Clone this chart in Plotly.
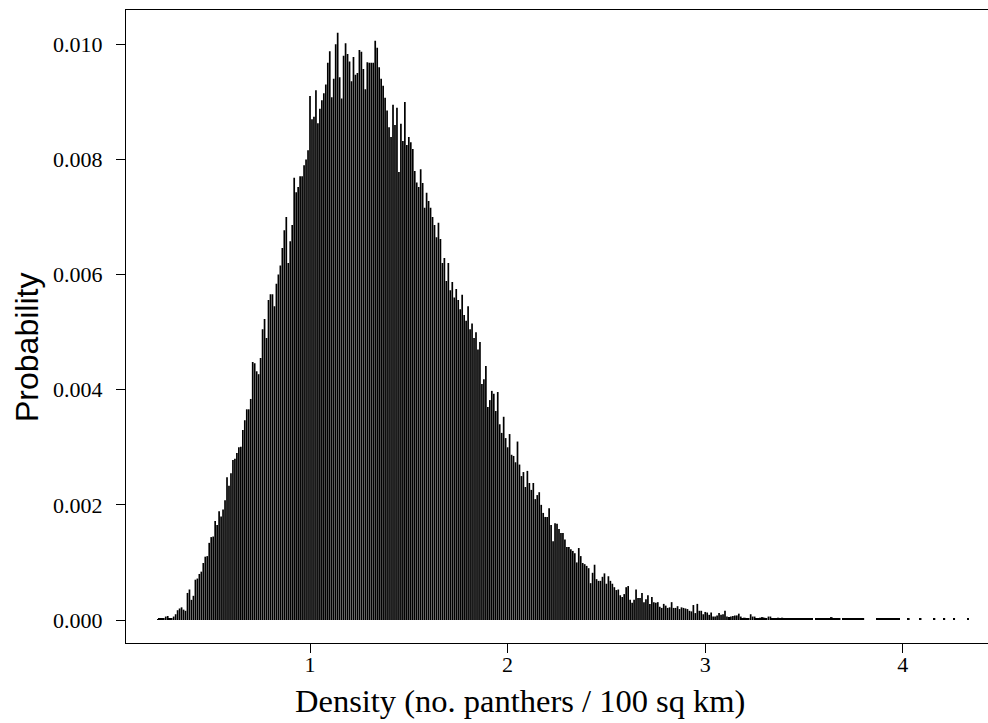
import plotly.graph_objects as go

# ---- data ----
# histogram bins: start of first bin and bin width (density units)
bin_first = 0.23
bin_width = 0.01
# probability of each bin, in units of 1e-5
prob_e5 = [
    1, 2, 2, 3, 6, 7, 3, 3, 6, 10,
    17, 20, 22, 18, 16, 47, 53, 35, 42, 70,
    72, 80, 84, 99, 110, 111, 134, 144, 145, 172,
    165, 189, 180, 192, 208, 248, 233, 255, 278, 280,
    290, 300, 301, 330, 347, 366, 366, 384, 448, 446,
    432, 427, 455, 505, 523, 490, 556, 566, 566, 545,
    584, 600, 616, 646, 677, 700, 620, 658, 686, 768,
    743, 752, 771, 771, 790, 800, 816, 910, 870, 874,
    920, 863, 888, 903, 915, 930, 968, 988, 908, 940,
    1000, 1020, 943, 906, 980, 1002, 983, 970, 936, 978,
    947, 950, 990, 987, 957, 922, 969, 968, 968, 968,
    1006, 994, 960, 940, 928, 907, 885, 856, 839, 895,
    860, 890, 778, 862, 832, 900, 825, 839, 830, 818,
    780, 760, 752, 783, 759, 716, 742, 728, 716, 700,
    686, 665, 690, 662, 620, 629, 589, 620, 573, 587,
    560, 575, 556, 540, 565, 530, 520, 545, 505, 515,
    490, 500, 470, 483, 410, 418, 441, 370, 382, 398,
    393, 363, 396, 340, 325, 353, 316, 300, 323, 287,
    285, 274, 310, 270, 250, 257, 231, 259, 238, 226,
    238, 210, 217, 222, 200, 186, 179, 179, 194, 165,
    137, 168, 167, 158, 151, 151, 140, 127, 127, 123,
    120, 116, 100, 125, 111, 99, 97, 94, 90, 64,
    82, 96, 71, 68, 68, 75, 81, 63, 76, 68,
    63, 57, 52, 53, 43, 40, 45, 57, 59, 35,
    30, 35, 53, 38, 38, 47, 31, 36, 43, 28,
    40, 31, 30, 31, 23, 21, 28, 25, 21, 22,
    31, 21, 21, 24, 19, 22, 21, 20, 19, 16,
    15, 26, 12, 28, 16, 16, 10, 14, 13, 9,
    13, 6, 6, 8, 12, 9, 10, 16, 6, 5,
    6, 7, 8, 8, 11, 6, 3, 4, 3, 2,
    10, 6, 6, 3, 3, 4, 5, 4, 3, 6,
    6, 2, 3, 3, 4, 3, 4, 3, 3, 3,
    3, 3, 3, 3, 3, 3, 2, 2, 2, 2,
    2, 2, 0, 2, 2, 2, 2, 2, 2, 2,
    2, 5, 2, 2, 2, 2, 0, 2, 2, 2,
    2, 2, 2, 2, 2, 2, 2, 2, 0, 0,
    0, 0, 0, 0, 2, 2, 2, 2, 2, 2,
    2, 2, 2, 2, 2, 2, 0, 0, 0, 0,
    2, 0, 0, 0, 0, 0, 2, 0, 0, 0,
    0, 0, 0, 2, 0, 0, 0, 0, 2, 0,
    0, 0, 0, 2, 0, 0, 0, 0, 0, 0,
    2,
]
x_tick_vals = [1, 2, 3, 4]
x_tick_text = ["1", "2", "3", "4"]
y_tick_vals = [0.000, 0.002, 0.004, 0.006, 0.008, 0.010]
y_tick_text = ["0.000", "0.002", "0.004", "0.006", "0.008", "0.010"]
x_label = "Density (no. panthers / 100 sq km)"
y_label = "Probability"

# ---- derived ----
density = [round(bin_first + bin_width * i, 4) for i in range(len(prob_e5))]
probability = [v / 1e5 for v in prob_e5]
# thin (anti-aliased) lines for ordinary bars; tiny tail bars kept pixel-visible
bar_colors = ["rgba(0,0,0,0.999)" if v >= 6 else "black" for v in prob_e5]

W, H = 988, 723
ML, MR, MT, MB = 126, 0, 10, 80

fig = go.Figure()
fig.add_trace(go.Bar(
    x=density, y=probability,
    width=bin_width * 0.86,
    marker=dict(color=bar_colors, line=dict(width=0)),
    showlegend=False, hoverinfo="x+y",
))

serif = "Liberation Serif, Times New Roman, serif"
sans = "Liberation Sans, Arial, sans-serif"

fig.update_layout(
    width=W, height=H,
    margin=dict(l=ML, r=MR, t=MT, b=MB, pad=0),
    paper_bgcolor="white", plot_bgcolor="white",
    bargap=0.1,
    xaxis=dict(
        range=[0.0688, 4.431], showgrid=False, zeroline=False,
        showline=True, linecolor="black", linewidth=1, mirror=True,
        ticks="outside", ticklen=9, tickwidth=1, tickcolor="black",
        tickvals=x_tick_vals, ticktext=x_tick_text,
        tickfont=dict(family=serif, size=22, color="black"),
        ticklabelstandoff=-7,
    ),
    yaxis=dict(
        range=[-0.0003995, 0.010596], showgrid=False, zeroline=False,
        showline=True, linecolor="black", linewidth=1, mirror=False,
        ticks="outside", ticklen=9, tickwidth=1, tickcolor="black",
        tickvals=y_tick_vals, ticktext=y_tick_text,
        tickfont=dict(family=serif, size=22, color="black"),
        ticklabelstandoff=9,
    ),
    annotations=[
        dict(text=x_label, xref="paper", yref="paper",
             x=(519.5 - ML) / (W - ML - MR), y=0,
             xanchor="center", yanchor="top", yshift=-38,
             showarrow=False, font=dict(family=serif, size=32.5, color="black")),
        dict(text=y_label, xref="paper", yref="paper",
             x=0, y=(H - MB - 348) / (H - MT - MB),
             xanchor="center", yanchor="middle", xshift=27 - ML,
             textangle=-90,
             showarrow=False, font=dict(family=sans, size=32, color="black")),
    ],
)

fig.write_html("out.html",
               config={"displayModeBar": False},
               post_script="document.body.style.margin='0';document.body.style.overflow='hidden';")
